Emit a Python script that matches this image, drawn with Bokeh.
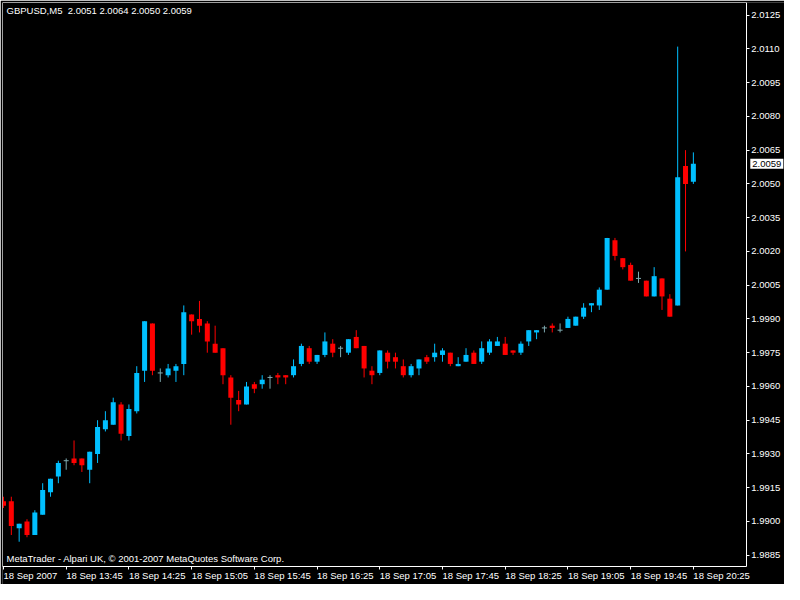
import numpy as np
from bokeh.plotting import figure
from bokeh.models import (Range1d, FixedTicker, PrintfTickFormatter, Label,
                          ColumnDataSource, LinearAxis)
from bokeh.embed import file_html
from bokeh.resources import INLINE

# GBPUSD M5, 18 Sep 2007, 13:05 .. 20:25
opens = [1.9909, 1.9909, 1.9897, 1.9900, 1.9894, 1.9903, 1.9913, 1.9920, 1.9927, 1.9928,
         1.9928, 1.9923, 1.9930, 1.9941, 1.9943, 1.9952, 1.9938, 1.9949, 1.9967, 1.9988,
         1.9966, 1.9965, 1.9967, 1.9970, 1.9992, 1.9990, 1.9988, 1.9979, 1.9977, 1.9964,
         1.9954, 1.9952, 1.9961, 1.9961, 1.9964, 1.9965, 1.9965, 1.9965, 1.9970, 1.9977,
         1.9971, 1.9974, 1.9979, 1.9977, 1.9975, 1.9982, 1.9978, 1.9967, 1.9966, 1.9975,
         1.9973, 1.9969, 1.9965, 1.9968, 1.9973, 1.9973, 1.9974, 1.9975, 1.9969, 1.9971,
         1.9975, 1.9971, 1.9975, 1.9978, 1.9979, 1.9976, 1.9975, 1.9980, 1.9984, 1.9986,
         1.9987, 1.9985, 1.9986, 1.9987, 1.9991, 1.9996, 1.9996, 2.0003, 2.0025, 2.0017,
         2.0014, 2.0008, 2.0007, 2.0000, 2.0008, 1.9999, 1.9996, 2.0058, 2.0051]
highs = [1.9911, 1.9911, 1.9899, 1.9901, 1.9905, 1.9917, 1.9919, 1.9927, 1.9928, 1.9936,
         1.9928, 1.9931, 1.9945, 1.9949, 1.9955, 1.9953, 1.9952, 1.9969, 1.9989, 1.9988,
         1.9968, 1.9970, 1.9970, 1.9996, 1.9992, 1.9998, 1.9989, 1.9987, 1.9977, 1.9965,
         1.9958, 1.9962, 1.9962, 1.9965, 1.9965, 1.9966, 1.9965, 1.9972, 1.9979, 1.9978,
         1.9974, 1.9984, 1.9981, 1.9978, 1.9981, 1.9985, 1.9978, 1.9969, 1.9976, 1.9976,
         1.9975, 1.9972, 1.9970, 1.9972, 1.9974, 1.9979, 1.9977, 1.9975, 1.9973, 1.9977,
         1.9976, 1.9980, 1.9981, 1.9982, 1.9982, 1.9976, 1.9980, 1.9985, 1.9985, 1.9987,
         1.9988, 1.9988, 1.9991, 1.9991, 1.9997, 1.9997, 2.0004, 2.0026, 2.0026, 2.0017,
         2.0015, 2.0011, 2.0007, 2.0013, 2.0008, 2.0001, 2.0111, 2.0065, 2.0064]
lows = [1.9906, 1.9894, 1.9891, 1.9893, 1.9894, 1.9903, 1.9911, 1.9917, 1.9923, 1.9925,
        1.9922, 1.9917, 1.9926, 1.9940, 1.9943, 1.9936, 1.9936, 1.9948, 1.9962, 1.9965,
        1.9962, 1.9964, 1.9962, 1.9965, 1.9983, 1.9984, 1.9975, 1.9975, 1.9961, 1.9943,
        1.9949, 1.9952, 1.9957, 1.9959, 1.9959, 1.9961, 1.9961, 1.9964, 1.9969, 1.9970,
        1.9970, 1.9973, 1.9973, 1.9973, 1.9974, 1.9977, 1.9964, 1.9961, 1.9965, 1.9968,
        1.9968, 1.9964, 1.9964, 1.9965, 1.9970, 1.9971, 1.9971, 1.9969, 1.9969, 1.9971,
        1.9970, 1.9970, 1.9974, 1.9978, 1.9974, 1.9974, 1.9974, 1.9978, 1.9981, 1.9984,
        1.9984, 1.9984, 1.9986, 1.9987, 1.9990, 1.9993, 1.9994, 2.0003, 2.0016, 2.0012,
        2.0007, 2.0006, 2.0000, 2.0000, 1.9994, 1.9991, 1.9996, 2.0020, 2.0050]
closes = [1.9907, 1.9898, 1.9899, 1.9894, 1.9904, 1.9914, 1.9919, 1.9926, 1.9927, 1.9926,
          1.9925, 1.9931, 1.9942, 1.9945, 1.9953, 1.9939, 1.9950, 1.9966, 1.9989, 1.9967,
          1.9966, 1.9968, 1.9969, 1.9993, 1.9989, 1.9987, 1.9980, 1.9975, 1.9965, 1.9955,
          1.9952, 1.9960, 1.9959, 1.9963, 1.9964, 1.9964, 1.9964, 1.9969, 1.9978, 1.9971,
          1.9974, 1.9980, 1.9975, 1.9977, 1.9981, 1.9977, 1.9968, 1.9965, 1.9976, 1.9971,
          1.9971, 1.9965, 1.9969, 1.9972, 1.9971, 1.9975, 1.9976, 1.9970, 1.9970, 1.9974,
          1.9970, 1.9977, 1.9980, 1.9980, 1.9974, 1.9975, 1.9979, 1.9985, 1.9985, 1.9986,
          1.9986, 1.9985, 1.9990, 1.9991, 1.9995, 1.9997, 2.0003, 2.0026, 2.0018, 2.0013,
          2.0007, 2.0008, 2.0000, 2.0009, 2.0000, 1.9991, 2.0053, 2.0050, 2.0059]

time_ticks = [0, 8, 16, 24, 32, 40, 48, 56, 64, 72, 80, 88]
time_labels = ["18 Sep 2007", "18 Sep 13:45", "18 Sep 14:25", "18 Sep 15:05",
               "18 Sep 15:45", "18 Sep 16:25", "18 Sep 17:05", "18 Sep 17:45",
               "18 Sep 18:25", "18 Sep 19:05", "18 Sep 19:45", "18 Sep 20:25"]
price_ticks = [1.9885, 1.9900, 1.9915, 1.9930, 1.9945, 1.9960, 1.9975, 1.9990,
               2.0005, 2.0020, 2.0035, 2.0050, 2.0065, 2.0080, 2.0095, 2.0110, 2.0125]

symbol = "GBPUSD,M5"
last_price = closes[-1]

UP = "#00BFFF"
DOWN = "#FF0000"
DOJI = "#7FAAB0"
FONT = "Liberation Sans"
FS = "9.5px"

# chart box (bar index / price); the frame runs on past it to hold the scales
X_LEFT, X_RIGHT = -0.125, 94.75
Y_BOTTOM, Y_TOP = 1.98798, 2.01306

o = np.array(opens)
h = np.array(highs)
l = np.array(lows)
c = np.array(closes)
idx = np.arange(len(o))

p = figure(width=784, height=584,
           x_range=Range1d(X_LEFT, 99.625), y_range=Range1d(1.98720, Y_TOP),
           x_axis_location=None, y_axis_location=None,
           output_backend="svg", toolbar_location=None,
           background_fill_color="black", border_fill_color="black",
           min_border_left=2, min_border_top=2, min_border_right=0, min_border_bottom=0)

for mask, color in ((c > o, UP), (c < o, DOWN), (c == o, DOJI)):
    src = ColumnDataSource(dict(x=idx[mask], o=o[mask], h=h[mask], l=l[mask], c=c[mask],
                                top=np.maximum(o, c)[mask], bot=np.minimum(o, c)[mask],
                                xl=idx[mask] - 0.32, xr=idx[mask] + 0.32))
    p.segment(x0="x", y0="l", x1="x", y1="h", source=src, line_color=color, line_width=1)
    if color == DOJI:
        p.segment(x0="xl", y0="c", x1="xr", y1="c", source=src, line_color=color, line_width=1)
    else:
        p.vbar(x="x", top="top", bottom="bot", width=0.64, source=src,
               fill_color=color, line_color=None)

p.grid.visible = False
p.outline_line_color = None

# time scale along the bottom edge of the chart box
xa = LinearAxis(fixed_location=Y_BOTTOM, bounds=(X_LEFT, X_RIGHT),
                ticker=FixedTicker(ticks=time_ticks),
                major_label_overrides={t: s for t, s in zip(time_ticks, time_labels)},
                major_label_orientation=-1e-9, major_label_standoff=6)
# price scale along the right edge
ya = LinearAxis(fixed_location=X_RIGHT, bounds=(Y_BOTTOM, Y_TOP),
                ticker=FixedTicker(ticks=price_ticks),
                formatter=PrintfTickFormatter(format="%.4f"), major_label_standoff=2)
# plain left and top edges
la = LinearAxis(fixed_location=X_LEFT, bounds=(Y_BOTTOM, Y_TOP), ticker=FixedTicker(ticks=[]))
ta = LinearAxis(fixed_location=Y_TOP, bounds=(X_LEFT, X_RIGHT), ticker=FixedTicker(ticks=[]))

for ax in (xa, ya, la, ta):
    ax.axis_line_color = "white"
    ax.axis_line_width = 1
    ax.major_tick_line_color = "white"
    ax.major_tick_in = 0
    ax.major_tick_out = 3
    ax.minor_tick_line_color = None
    ax.major_label_text_color = "white"
    ax.major_label_text_font = FONT
    ax.major_label_text_font_size = FS

p.add_layout(xa, "below")
p.add_layout(ya, "right")
p.add_layout(la, "left")
p.add_layout(ta, "above")

header = f"{symbol}\u00a0 {opens[-1]:.4f} {highs[-1]:.4f} {lows[-1]:.4f} {closes[-1]:.4f}"
p.add_layout(Label(x=X_LEFT, y=Y_TOP, x_offset=4, y_offset=-2, text=header,
                   text_color="white", text_font=FONT, text_font_size=FS,
                   text_baseline="top"))
p.add_layout(Label(x=X_LEFT, y=Y_BOTTOM, x_offset=4, y_offset=3,
                   text="MetaTrader - Alpari UK, \u00a9 2001-2007 MetaQuotes Software Corp.",
                   text_color="white", text_font=FONT, text_font_size=FS,
                   text_baseline="bottom"))
p.add_layout(Label(x=X_RIGHT, y=last_price, x_offset=4,
                   text=f"{last_price:.4f}", text_color="black", text_font=FONT,
                   text_font_size=FS, text_baseline="middle", padding=2,
                   background_fill_color="white"))

open("out.html", "w").write(file_html(p, INLINE))
